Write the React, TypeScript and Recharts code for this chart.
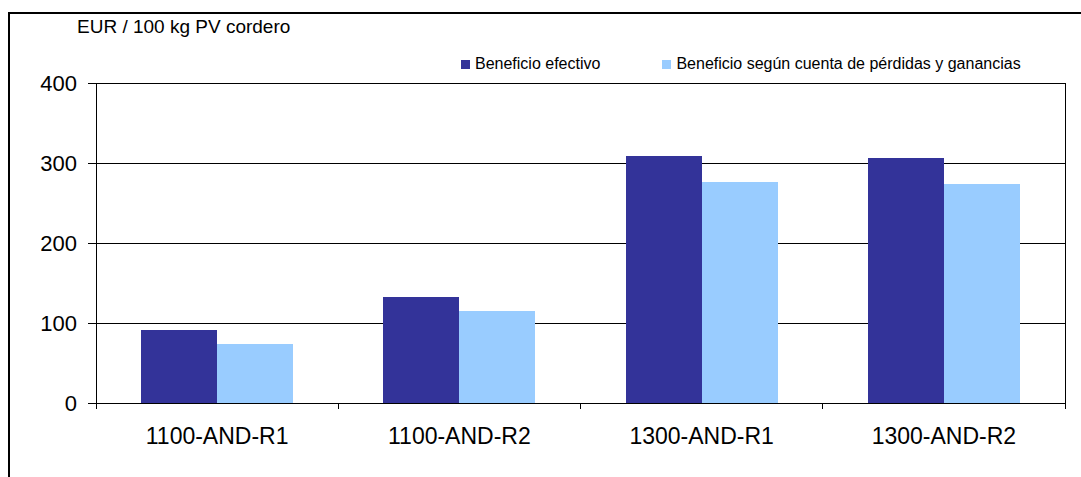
import { BarChart, Bar, XAxis, YAxis, CartesianGrid } from 'recharts';

const categories = ['1100-AND-R1', '1100-AND-R2', '1300-AND-R1', '1300-AND-R2'];
const beneficioEfectivo = [91, 132.5, 309, 306];
const beneficioCuenta = [74, 115, 276.5, 274];
const yTicks = [0, 100, 200, 300, 400];
const edgeTicks = [0, 1, 2, 3, 4];

const series = [
    { key: 'efectivo', name: 'Beneficio efectivo', color: '#333399', values: beneficioEfectivo },
    { key: 'cuenta', name: 'Beneficio según cuenta de pérdidas y ganancias', color: '#99CCFF', values: beneficioCuenta },
];

const data = categories.map((name, i) => {
    const row: Record<string, string | number> = { name, edge: i };
    series.forEach(s => { row[s.key] = s.values[i]; });
    return row;
});

const font = '"Liberation Sans", Arial, sans-serif';

const NoLabel = () => <g />;

export default function App() {
    return (
        <div style={{ position: 'fixed', left: 0, top: 0, width: 1081, height: 477, overflow: 'hidden', background: '#fff', fontFamily: font }}>
            <div style={{ position: 'absolute', left: 8, top: 12, width: 1200, height: 600, borderTop: '2px solid #000', borderLeft: '2px solid #000' }} />
            <div style={{ position: 'absolute', left: 77, top: 17, fontSize: 19, lineHeight: 1, color: '#000' }}>
                EUR / 100 kg PV cordero
            </div>
            <div style={{ position: 'absolute', left: 461, top: 56, display: 'flex', gap: 62, fontSize: 16, lineHeight: 1 }}>
                {series.map(s => (
                    <div key={s.key} style={{ display: 'flex', alignItems: 'center' }}>
                        <span style={{ width: 9, height: 9, background: s.color, marginRight: 5, display: 'inline-block' }} />
                        <span>{s.name}</span>
                    </div>
                ))}
            </div>
            <div style={{ position: 'absolute', left: 0, top: 0 }}>
                <BarChart width={1081} height={477} data={data} margin={{ top: 83, right: 15, bottom: 33, left: 0 }}
                    barGap={0} barSize={76} style={{ shapeRendering: 'crispEdges' }}>
                    <CartesianGrid vertical={false} xAxisId="b" stroke="#000" strokeWidth={1} />
                    <XAxis xAxisId="a" dataKey="edge" type="number" domain={[0, 4]} ticks={edgeTicks} tick={NoLabel}
                        axisLine={false} tickLine={{ stroke: '#000' }} tickSize={6} height={1} allowDataOverflow />
                    <XAxis xAxisId="b" dataKey="name" height={40} tickLine={false} tickSize={0} tickMargin={24}
                        axisLine={false} tick={{ fill: '#000', fontSize: 23, fontFamily: font }} />
                    <YAxis domain={[0, 400]} ticks={yTicks} width={96} tickSize={8} tickMargin={11}
                        axisLine={{ stroke: '#000' }} tickLine={{ stroke: '#000' }}
                        tick={{ fill: '#000', fontSize: 22, fontFamily: font }} />
                    <YAxis yAxisId="right" orientation="right" domain={[0, 400]} width={1} tick={NoLabel} tickLine={false}
                        axisLine={{ stroke: '#000' }} />
                    {series.map(s => (
                        <Bar key={s.key} xAxisId="b" dataKey={s.key} name={s.name} fill={s.color} isAnimationActive={false} />
                    ))}
                </BarChart>
            </div>
        </div>
    );
}
